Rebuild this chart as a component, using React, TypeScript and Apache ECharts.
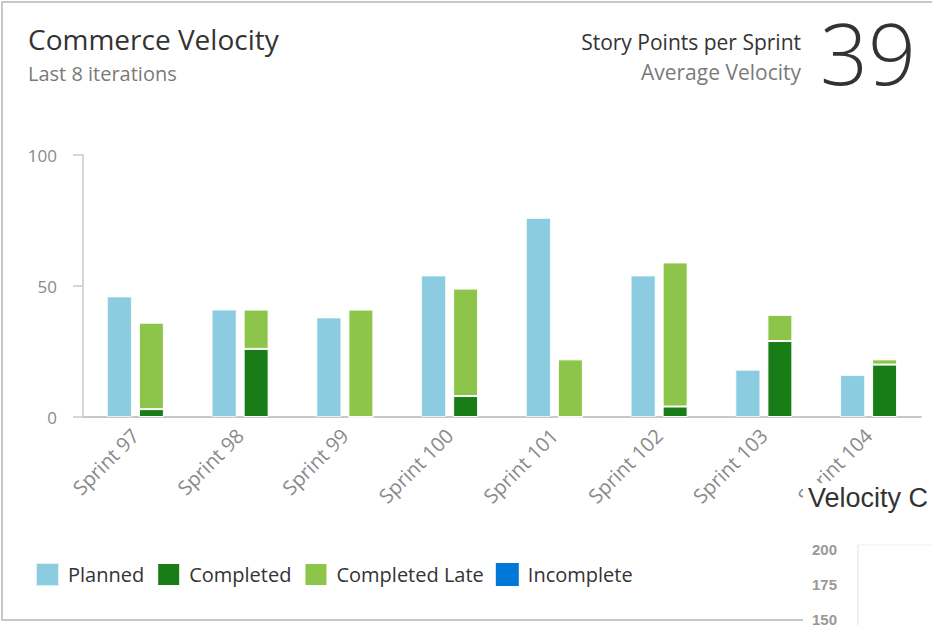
import React, { useEffect, useRef } from "react";
import * as echarts from "echarts";

const categories = ["Sprint 97", "Sprint 98", "Sprint 99", "Sprint 100", "Sprint 101", "Sprint 102", "Sprint 103", "Sprint 104"];
const planned = [46, 41, 38, 54, 76, 54, 18, 16];
const completed = [3, 26, 0, 8, 0, 4, 29, 20];
const completedLate = [33, 15, 41, 41, 22, 55, 10, 2];
const incomplete = [0, 0, 0, 0, 0, 0, 0, 0];
const yTicks = [0, 50, 100];
const averageVelocity = "39";
const overlayTicks = ["200", "175", "150"];

const FONT = "'Open Sans', 'Noto Sans', sans-serif";

export default function App() {
  const ref = useRef<HTMLDivElement>(null);
  useEffect(() => {
    document.body.style.margin = "0";
    if (!ref.current) return;
    const chart = echarts.init(ref.current, null, { renderer: "svg" });
    const barBorder = { borderColor: "rgba(255,255,255,0.7)", borderWidth: 1 };
    chart.setOption({
      animation: false,
      backgroundColor: "#ffffff",
      textStyle: { fontFamily: FONT },
      grid: { left: 83, right: 11, top: 155, bottom: 208, containLabel: false },
      xAxis: {
        type: "category",
        data: categories,
        axisLine: { lineStyle: { color: "#c8c8c8", width: 2 } },
        axisTick: { show: false },
        axisLabel: { rotate: 45, fontSize: 20, color: "#8a8a8a", margin: 15, fontFamily: FONT },
      },
      yAxis: {
        type: "value",
        min: yTicks[0],
        max: yTicks[yTicks.length - 1],
        interval: 50,
        axisLine: { show: true, lineStyle: { color: "#d6d6d6", width: 2 } },
        axisTick: { show: true, length: 10, lineStyle: { color: "#d6d6d6", width: 2 } },
        splitLine: { show: false },
        axisLabel: { fontSize: 17, color: "#8a8a8a", margin: 26, fontFamily: FONT },
      },
      legend: {
        left: 30,
        top: 557,
        itemWidth: 23,
        itemHeight: 23,
        itemGap: 12,
        icon: "rect",
        textStyle: { fontSize: 20, color: "#333", fontFamily: FONT, padding: [0, 0, 0, 4] },
        data: ["Planned", "Completed", "Completed Late", "Incomplete"],
      },
      series: [
        { name: "Planned", type: "bar", data: planned, barWidth: 25, barGap: "28%", itemStyle: { color: "#8bcce0", ...barBorder } },
        { name: "Completed", type: "bar", stack: "done", data: completed, barWidth: 25, itemStyle: { color: "#187d16", borderColor: "#ffffff", borderWidth: 1 } },
        { name: "Completed Late", type: "bar", stack: "done", data: completedLate, barWidth: 25, itemStyle: { color: "#8dc54b", borderColor: "#ffffff", borderWidth: 1 } },
        { name: "Incomplete", type: "bar", stack: "done", data: incomplete, barWidth: 25, itemStyle: { color: "#0078d7" } },
      ],
      graphic: [
        { type: "rect", z: 1, silent: true, shape: { x: 2, y: 2, width: 960, height: 618 }, style: { fill: "none", stroke: "#c8c8c8", lineWidth: 2 } },
        { type: "text", left: 28, top: 25, style: { text: "Commerce Velocity", fontSize: 28, fill: "#333", fontFamily: FONT } },
        { type: "text", left: 28, top: 63, style: { text: "Last 8 iterations", fontSize: 20, fill: "#7a7a7a", fontFamily: FONT } },
        { type: "text", right: 131, top: 31, style: { text: "Story Points per Sprint", fontSize: 21, fill: "#333", fontFamily: FONT } },
        { type: "text", right: 131, top: 61, style: { text: "Average Velocity", fontSize: 21, fill: "#7a7a7a", fontFamily: FONT } },
        { type: "text", left: 820, top: 10, style: { text: averageVelocity, fontSize: 84, fontWeight: 300, fill: "#333", fontFamily: FONT } },
        // overlapping widget fragment at bottom right
        { type: "rect", z: 100, silent: true, shape: { x: 803, y: 483, width: 140, height: 150 }, style: { fill: "#ffffff" } },
        { type: "text", z: 101, left: 808, top: 484, style: { text: "Velocity C", fontSize: 27, fill: "#333", fontFamily: "'Liberation Sans', Arial, sans-serif" } },
        { type: "line", z: 101, shape: { x1: 858, y1: 545, x2: 858, y2: 630 }, style: { stroke: "#e0e0e0", lineWidth: 1 } },
        { type: "line", z: 101, shape: { x1: 858, y1: 545, x2: 940, y2: 545 }, style: { stroke: "#eeeeee", lineWidth: 1 } },
        ...overlayTicks.map((t, i) => ({
          type: "text", z: 101, left: 812, top: 542 + i * 35,
          style: { text: t, fontSize: 15, fill: "#999", fontWeight: "bold", fontFamily: "'Liberation Sans', Arial, sans-serif" },
        })),
      ],
    });
    return () => chart.dispose();
  }, []);
  return <div ref={ref} style={{ width: 932, height: 625 }} />;
}
